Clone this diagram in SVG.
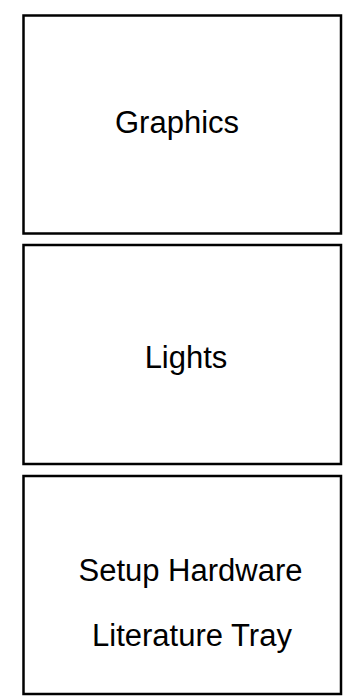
<svg xmlns="http://www.w3.org/2000/svg" width="351" height="698" viewBox="0 0 351 698">
<style>
.box{fill:#fff;stroke:#000;stroke-width:2.5}
.lbl{font-family:"Liberation Sans",Arial,sans-serif;font-size:31px;fill:#000;text-anchor:middle}
</style>
<rect width="351" height="698" fill="#fff"/>
<g id="connectors"></g>
<g id="graphics">
<rect class="box" x="23.5" y="15.5" width="317.5" height="218"/>
<text class="lbl" x="177" y="132.5">Graphics</text>
</g>
<g id="lights">
<rect class="box" x="23.5" y="245" width="317.5" height="219"/>
<text class="lbl" x="186" y="367.5">Lights</text>
</g>
<g id="setup">
<rect class="box" x="23.5" y="476" width="317.5" height="218"/>
<text class="lbl" x="190.5" y="581">Setup Hardware</text>
<text class="lbl" x="192" y="646">Literature Tray</text>
</g>
</svg>
